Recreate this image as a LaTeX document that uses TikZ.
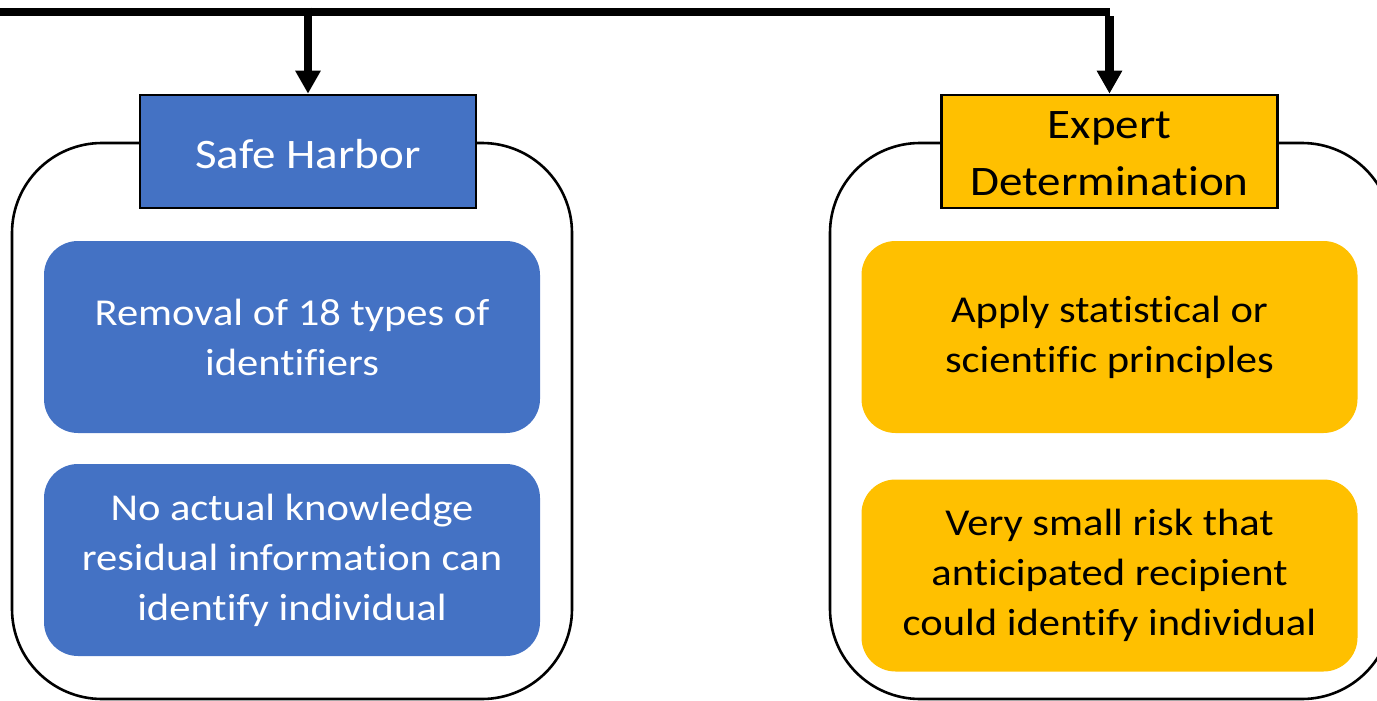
\documentclass[tikz,border=0pt]{standalone}
\usepackage{fontspec}
\setmainfont{Carlito}[FakeStretch=1.12, Ligatures={NoCommon, NoRare}, RawFeature={-liga;-clig}]
\usetikzlibrary{arrows.meta}
\definecolor{harborblue}{HTML}{4472C4}
\definecolor{expertgold}{HTML}{FFC000}
\tikzset{
  container/.style={draw=black, line width=2.6pt, rounded corners=90pt},
  header/.style={draw=black, line width=2.6pt, minimum width=336pt, minimum height=113pt,
    inner sep=0pt},
  headtext/.style={shift={(0,-2.5pt)}, inner sep=0pt, align=center,
    font=\fontsize{42}{57}\selectfont},
  itembox/.style={rounded corners=34pt, minimum width=496pt, minimum height=192pt,
    inner sep=0pt, align=center, font=\fontsize{38}{50}\selectfont},
  feed/.style={line width=8.5pt, -{Triangle[length=23pt, width=24pt]}},
}
\begin{document}
\begin{tikzpicture}[x=1pt, y=-1pt]
  \useasboundingbox (0,0) rectangle (1377,701);
  \clip (0,0) rectangle (1377,701);

  % outer rounded frames
  \draw[container] (12,143) rectangle (572,699);
  \draw[container] (830,143) rectangle (1392,699);

  % section headers
  \node[header, fill=harborblue,
        label={[headtext, text=white]center:Safe Harbor}] (sh) at (308,151.5) {};
  \node[header, fill=expertgold,
        label={[headtext, text=black]center:Expert\\Determination}] (ed) at (1109.5,151.5) {};

  % items under each header
  \node[itembox, fill=harborblue, text=white] (sh1) at (292,337) {Removal of 18 types of\\identifiers};
  \node[itembox, fill=harborblue, text=white] (sh2) at (292,560) {No actual knowledge\\residual information can\\identify individual};
  \node[itembox, fill=expertgold, text=black] (ed1) at (1109.5,337) {Apply statistical or\\scientific principles};
  \node[itembox, fill=expertgold, text=black] (ed2) at (1109.5,575.5) {Very small risk that\\anticipated recipient\\could identify individual};

  % feeding line from the left
  \coordinate (src) at (-10,12);
  \coordinate (jl) at (sh.north |- src);
  \coordinate (jr) at (ed.north |- src);
  \draw[line width=8.5pt] (src) -- (jr);
  \draw[feed] ([yshift=4.25pt]jl) -- (sh.north);
  \draw[feed] ([yshift=-4.25pt]jr) -- (ed.north);
\end{tikzpicture}
\end{document}
